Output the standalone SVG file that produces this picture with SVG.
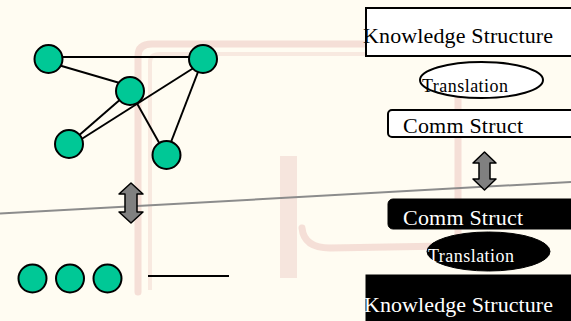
<svg xmlns="http://www.w3.org/2000/svg" width="571" height="321" viewBox="0 0 571 321">
  <defs>
    <style>
      .bg { fill: #fffcf2; }
      .sketch { fill: none; stroke: #e6b0aa; stroke-width: 7; stroke-linecap: round; stroke-linejoin: round; opacity: 0.38; }
      .sketch2 { fill: none; stroke: #ecc6bf; stroke-width: 4; opacity: 0.35; }
      .pillar { fill: #e8c4bd; opacity: 0.4; }
      .node { fill: #00c896; stroke: #000; stroke-width: 2; }
      .edge { stroke: #000; stroke-width: 2; fill: none; }
      .dbl { fill: #808080; stroke: #000; stroke-width: 1.5; stroke-linejoin: round; }
      .lbl { font-family: "Liberation Serif", "Times New Roman", serif; }
      .big { font-size: 22px; }
      .small { font-size: 18px; }
      .wbox { fill: #fff; stroke: #000; stroke-width: 2; }
      .bbox { fill: #000; stroke: #000; stroke-width: 1; }
      .dark { fill: #000; }
      .light { fill: #fff; }
    </style>
  </defs>

  <!-- background (faded sketch) -->
  <rect class="bg" x="0" y="0" width="571" height="321"/>
  <g id="background-sketch">
    <path class="sketch" d="M138,292 L138,56 Q138,44 152,44 L372,44"/>
    <path class="sketch2" d="M150,290 L150,62 Q150,54 160,54 L370,54"/>
    <path class="sketch" d="M458,96 L458,236 Q458,246 446,246 L330,248 Q304,248 302,228"/>
    <rect class="pillar" x="280" y="156" width="17" height="122"/>
    <line x1="0" y1="213.5" x2="571" y2="182" stroke="#8c8c8c" stroke-width="2"/>
  </g>

  <!-- connectors -->
  <g id="connectors">
    <line class="edge" x1="48" y1="57" x2="203" y2="57"/>
    <line class="edge" x1="48" y1="62" x2="130" y2="86"/>
    <line class="edge" x1="130" y1="91" x2="69" y2="144"/>
    <line class="edge" x1="203" y1="62" x2="69" y2="147"/>
    <line class="edge" x1="130" y1="91" x2="166" y2="155"/>
    <line class="edge" x1="203" y1="59" x2="166" y2="155"/>
    <line class="edge" x1="148" y1="276" x2="229" y2="276"/>
    <path class="dbl" d="M131,183 L143,194 L137,194 L137,212 L143,212 L131,223 L119,212 L125,212 L125,194 L119,194 Z"/>
    <path class="dbl" d="M484.5,152 L496,163 L490,163 L490,179 L496,179 L484.5,190 L473,179 L479,179 L479,163 L473,163 Z"/>
  </g>

  <!-- graph nodes -->
  <g id="node-a"><circle class="node" cx="48.5" cy="59" r="14"/></g>
  <g id="node-b"><circle class="node" cx="203" cy="59" r="14"/></g>
  <g id="node-c"><circle class="node" cx="130" cy="91" r="14"/></g>
  <g id="node-d"><circle class="node" cx="69" cy="144" r="14"/></g>
  <g id="node-e"><circle class="node" cx="166.5" cy="155" r="14"/></g>

  <g id="node-row1"><circle class="node" cx="32.5" cy="278.5" r="14"/></g>
  <g id="node-row2"><circle class="node" cx="70" cy="278.5" r="14"/></g>
  <g id="node-row3"><circle class="node" cx="107.5" cy="278.5" r="14"/></g>

  <!-- right column, top (white) -->
  <g id="knowledge-top">
    <rect class="wbox" x="366" y="8" width="215" height="48"/>
    <text class="lbl big dark" x="363" y="43" textLength="190">Knowledge Structure</text>
  </g>
  <g id="translation-top">
    <ellipse class="wbox" cx="481.5" cy="80" rx="61.5" ry="18"/>
    <text class="lbl small dark" x="422" y="92" textLength="86">Translation</text>
  </g>
  <g id="comm-top">
    <rect class="wbox" x="388" y="110" width="200" height="27" rx="4"/>
    <text class="lbl big dark" x="403" y="133" textLength="120">Comm Struct</text>
  </g>

  <!-- right column, bottom (black) -->
  <g id="comm-bottom">
    <rect class="bbox" x="388" y="199" width="200" height="30" rx="5"/>
    <text class="lbl big light" x="403" y="225" textLength="120">Comm Struct</text>
  </g>
  <g id="translation-bottom">
    <ellipse class="bbox" cx="488.5" cy="251.5" rx="61.5" ry="19.5"/>
    <text class="lbl small light" x="428" y="262" textLength="86">Translation</text>
  </g>
  <g id="knowledge-bottom">
    <rect class="bbox" x="366" y="275" width="215" height="50"/>
    <text class="lbl big light" x="364" y="312" textLength="189">Knowledge Structure</text>
  </g>
</svg>
